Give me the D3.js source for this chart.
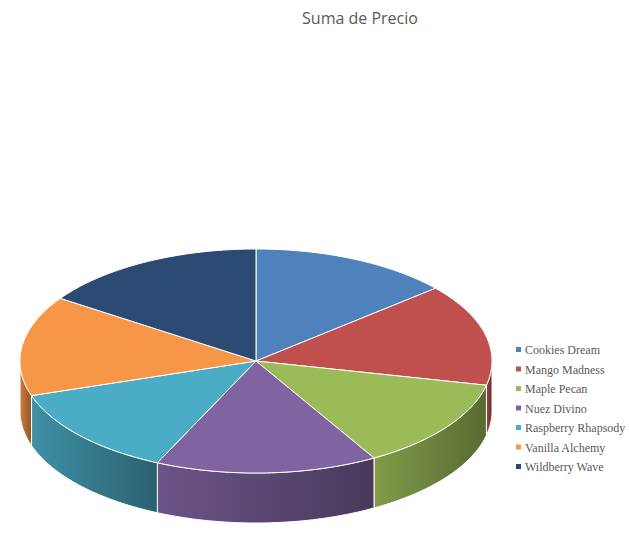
<!DOCTYPE html>
<html><head><meta charset="utf-8">
<script src="https://cdn.jsdelivr.net/npm/d3@7"></script>
<style>body{margin:0;background:#fff}</style></head>
<body><svg id="c" width="629" height="538"></svg>
<script>
const categories=["Cookies Dream","Mango Madness","Maple Pecan","Nuez Divino","Raspberry Rhapsody","Vanilla Alchemy","Wildberry Wave"];
const values=[49.5,53,47.5,54.7,47.3,52,56];
const colors=["#4f81bd","#c0504d","#9bbb59","#8064a2","#4bacc6","#f79646","#2b4b74"];
const svg=d3.select("#c");
const cx=256,cy=361,rx=236,ry=112,depth=50;
const pie=d3.pie().sort(null).value(d=>d)(values);
const pt=(a,dy=0)=>[cx+rx*Math.sin(a),cy-ry*Math.cos(a)+dy];
const line=d3.line();
function arcPts(a0,a1,dy=0){const n=Math.max(2,Math.ceil((a1-a0)/0.02));return d3.range(n+1).map(i=>pt(a0+(a1-a0)*i/n,dy));}
const defs=svg.append("defs");
// sides
pie.forEach((p,i)=>{
  const s=Math.max(p.startAngle,Math.PI/2),e=Math.min(p.endAngle,3*Math.PI/2);
  if(e<=s)return;
  const g=defs.append("linearGradient").attr("id","g"+i).attr("x1","0").attr("x2","1");
  const c=d3.color(colors[i]);
  g.append("stop").attr("offset","0").attr("stop-color",c.darker(0.5));
  g.append("stop").attr("offset","1").attr("stop-color",c.darker(1.6));
  const top=arcPts(s,e),bot=arcPts(s,e,depth).reverse();
  svg.append("path").attr("d",line(top.concat(bot))+"Z").attr("fill","url(#g"+i+")").attr("stroke","#fff").attr("stroke-width",1);
});
pie.forEach((p,i)=>{
  svg.append("path").attr("d",line([[cx,cy]].concat(arcPts(p.startAngle,p.endAngle)))+"Z")
   .attr("fill",colors[i]).attr("stroke","#fff").attr("stroke-width",1);
});
svg.append("text").attr("x",360).attr("y",24).attr("text-anchor","middle").attr("font-family","Open Sans").attr("font-size",16).attr("fill","#595959").text("Suma de Precio");
const lg=svg.append("g");
categories.forEach((c,i)=>{
  const y=350+i*19.5;
  lg.append("rect").attr("x",516).attr("y",y-3).attr("width",5).attr("height",5).attr("fill",colors[i]);
  lg.append("text").attr("x",525).attr("y",y+4).attr("font-family","Liberation Serif").attr("font-size",12).attr("fill","#595959").text(c);
});
</script></body></html>
